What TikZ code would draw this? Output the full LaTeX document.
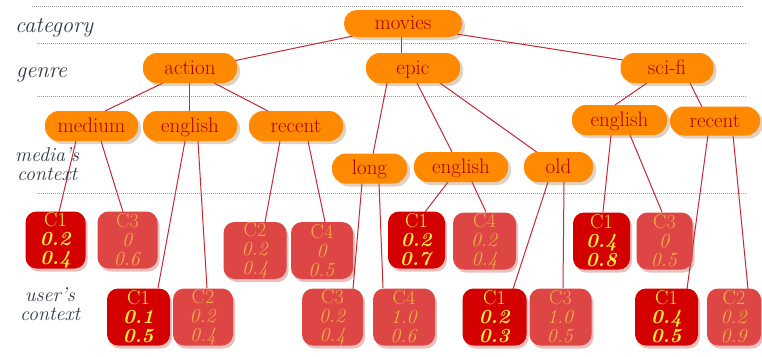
\documentclass[tikz,border=0pt]{standalone}
\usetikzlibrary{shadows,backgrounds}
\definecolor{pill}{RGB}{255,137,0}
\definecolor{pilltext}{RGB}{175,0,0}
\definecolor{darkbox}{RGB}{212,0,0}
\definecolor{lightbox}{RGB}{222,70,70}
\definecolor{yel}{RGB}{255,236,60}
\definecolor{ltxt}{RGB}{242,172,72}
\definecolor{edgecol}{RGB}{198,40,52}
\definecolor{lbl}{RGB}{48,56,74}
\newcommand\hotnum[1]{\textbf{\textit{#1}}}
\newcommand\coolnum[1]{\textit{#1}}
\tikzset{
 pillnode/.style={rectangle, rounded corners=14pt, fill=pill, text=pilltext,
   minimum height=30pt, inner sep=0pt, text height=15pt, text depth=3pt,
   font=\fontsize{21}{24}\selectfont,
   drop shadow={shadow xshift=3pt, shadow yshift=-3pt, fill=brown!80!black, opacity=0.3}},
 boxbase/.style={rectangle, rounded corners=11pt, minimum width=60pt, minimum height=57pt,
   inner sep=0pt, align=center, font=\fontsize{20}{19}\selectfont,
   drop shadow={shadow xshift=2pt, shadow yshift=-3pt, fill=red!70!black, opacity=0.25}},
 hotbox/.style={boxbase, fill=darkbox, text=yel},
 coolbox/.style={boxbase, fill=lightbox, text=ltxt},
 link/.style={draw=edgecol, line width=1pt},
 layerline/.style={draw=gray!80, dash pattern=on 0.8pt off 1.2pt, line width=0.8pt},
 levellabel/.style={text=lbl, inner sep=0pt, font=\fontsize{22.5}{17}\selectfont\itshape},
 levellabeltwo/.style={text=lbl, inner sep=0pt, align=center, font=\fontsize{20}{19.5}\selectfont\itshape},
}
\begin{document}
\begin{tikzpicture}[x=1pt,y=-1pt]
\useasboundingbox (0,0) rectangle (762,356);

% level labels
\node[levellabel, anchor=base west] (lcat) at (15,32) {category};
\node[levellabel, anchor=base west] (lgen) at (16,77) {genre};
\node[levellabeltwo] (lmed) at (47,164) {media's\\context};
\node[levellabeltwo] (lusr) at (50,304) {user's\\context};

% orange nodes
\node[pillnode, minimum width=118pt, minimum height=27pt, rounded corners=13pt] (movies) at (403,23.5) {movies};
\node[pillnode, minimum width=94pt] (action) at (190,68) {action};
\node[pillnode, minimum width=94pt] (epic) at (413,68) {epic};
\node[pillnode, minimum width=93pt] (scifi) at (667,68) {sci-fi};
\node[pillnode, minimum width=93pt] (medium) at (91.5,126) {medium};
\node[pillnode, minimum width=94pt] (engA) at (190,126) {english};
\node[pillnode, minimum width=94pt] (recA) at (296,126) {recent};
\node[pillnode, minimum width=75pt] (long) at (369.5,168.5) {long};
\node[pillnode, minimum width=94pt] (engE) at (461,167) {english};
\node[pillnode, minimum width=69pt] (old) at (558.5,167) {old};
\node[pillnode, minimum width=95pt] (engS) at (619.5,120) {english};
\node[pillnode, minimum width=90pt, minimum height=29pt] (recS) at (715,121) {recent};

% media's context boxes
\node[hotbox] (b1) at (55.5,240) {C1\\\hotnum{0.2}\\\hotnum{0.4}};
\node[coolbox] (b2) at (127.5,240) {C3\\\coolnum{0}\\\coolnum{0.6}};
\node[coolbox, minimum width=63pt] (b3) at (255,250.5) {C2\\\coolnum{0.2}\\\coolnum{0.4}};
\node[coolbox, minimum width=62pt] (b4) at (322,250.5) {C4\\\coolnum{0}\\\coolnum{0.5}};
\node[hotbox, minimum width=57pt] (b5) at (416.5,240) {C1\\\hotnum{0.2}\\\hotnum{0.7}};
\node[coolbox, minimum width=63pt] (b6) at (484.5,241) {C4\\\coolnum{0.2}\\\coolnum{0.4}};
\node[hotbox, minimum width=57pt] (b7) at (601.5,241) {C1\\\hotnum{0.4}\\\hotnum{0.8}};
\node[coolbox, minimum width=56pt] (b8) at (664.5,241) {C3\\\coolnum{0}\\\coolnum{0.5}};

% user's context boxes
\node[hotbox, minimum width=63pt] (c1) at (138.5,317) {C1\\\hotnum{0.1}\\\hotnum{0.5}};
\node[coolbox] (c2) at (203,317) {C2\\\coolnum{0.2}\\\coolnum{0.4}};
\node[coolbox, minimum width=61pt] (c3) at (332.5,317) {C3\\\coolnum{0.2}\\\coolnum{0.4}};
\node[coolbox, minimum width=62pt] (c4) at (404,317) {C4\\\coolnum{1.0}\\\coolnum{0.6}};
\node[hotbox, minimum width=64pt] (c5) at (494.5,317) {C1\\\hotnum{0.2}\\\hotnum{0.3}};
\node[coolbox, minimum width=62pt] (c6) at (560.5,317) {C3\\\coolnum{1.0}\\\coolnum{0.5}};
\node[hotbox, minimum width=63pt] (c7) at (666.5,317) {C1\\\hotnum{0.4}\\\hotnum{0.5}};
\node[coolbox, minimum width=54pt] (c8) at (734,317) {C2\\\coolnum{0.2}\\\coolnum{0.9}};

\begin{scope}[on background layer]
% dotted level separators
\draw[layerline] (32,6) -- (743,6);
\draw[layerline] (37,43) -- (747,43);
\draw[layerline] (37,96) -- (747,96);
\draw[layerline] (37,193) -- (747,193);

% tree edges
\draw[link] ([shift={(-50,12.5)}]movies.center) -- ([shift={(43,-7)}]action.center);
\draw[link] ([shift={(-2,12.5)}]movies.center) -- ([shift={(-12,-15)}]epic.center);
\draw[link] ([shift={(47,9.5)}]movies.center) -- ([shift={(-44,-8)}]scifi.center);

\draw[link] ([shift={(-27,15)}]action.center) -- ([shift={(13.5,-15)}]medium.center);
\draw[link] ([shift={(-1,15)}]action.center) -- ([shift={(-1,-15)}]engA.center);
\draw[link] ([shift={(24,15)}]action.center) -- ([shift={(-28,-15)}]recA.center);

\draw[link] ([shift={(-26,15)}]epic.center) -- ([shift={(3.5,-14.5)}]long.center);
\draw[link] ([shift={(4,15)}]epic.center) -- ([shift={(-9,-15)}]engE.center);
\draw[link] ([shift={(27,15)}]epic.center) -- ([shift={(-20.5,-14)}]old.center);

\draw[link] ([shift={(-20,15)}]scifi.center) -- ([shift={(-4.5,-15)}]engS.center);
\draw[link] ([shift={(23,15)}]scifi.center) -- ([shift={(-13,-14)}]recS.center);

\draw[link] ([shift={(-15.5,15)}]medium.center) -- ([shift={(3.5,-28)}]b1.center);
\draw[link] ([shift={(9.5,15)}]medium.center) -- ([shift={(-4.5,-28)}]b2.center);
\draw[link] ([shift={(-5,15)}]engA.center) -- ([shift={(19.5,-29)}]c1.center);
\draw[link] ([shift={(8,15)}]engA.center) -- ([shift={(4,-29)}]c2.center);
\draw[link] ([shift={(-16,15)}]recA.center) -- ([shift={(10,-28.5)}]b3.center);
\draw[link] ([shift={(12,15)}]recA.center) -- ([shift={(3,-28.5)}]b4.center);
\draw[link] ([shift={(-7.5,14.5)}]long.center) -- ([shift={(20.5,-28)}]c3.center);
\draw[link] ([shift={(9.5,14.5)}]long.center) -- ([shift={(-21,-29)}]c4.center);
\draw[link] ([shift={(-13,15)}]engE.center) -- ([shift={(8.5,-28)}]b5.center);
\draw[link] ([shift={(11,15)}]engE.center) -- ([shift={(1.5,-29)}]b6.center);
\draw[link] ([shift={(-10.5,15)}]old.center) -- ([shift={(18.5,-28)}]c5.center);
\draw[link] ([shift={(5.5,15)}]old.center) -- ([shift={(2.5,-29)}]c6.center);
\draw[link] ([shift={(-8.5,15)}]engS.center) -- ([shift={(1.5,-29)}]b7.center);
\draw[link] ([shift={(10.5,15)}]engS.center) -- ([shift={(-2.5,-29)}]b8.center);
\draw[link] ([shift={(-7,14)}]recS.center) -- ([shift={(20.5,-28)}]c7.center);
\draw[link] ([shift={(18,14)}]recS.center) -- ([shift={(14,-28)}]c8.center);
\end{scope}
\end{tikzpicture}
\end{document}
